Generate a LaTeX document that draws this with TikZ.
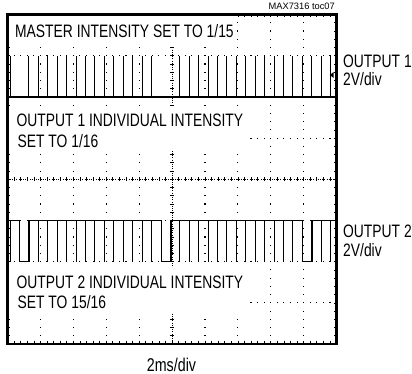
\documentclass[tikz,border=0pt]{standalone}
\usepackage{fontspec}
\setmainfont{Liberation Sans}[FakeStretch=0.77]
\newfontfamily\plainfont{Liberation Sans}
\begin{document}
\begin{tikzpicture}[x=1pt,y=-1pt,
  lbl/.style={font=\fontsize{18}{20}\selectfont, inner sep=0pt, anchor=base west},
  gdot/.style={fill=black},
  trace/.style={line width=1.5pt},
  pulse/.style={line width=0.9pt},
  frame/.style={line width=2.8pt},
  tick/.style={line width=0.6pt}]
\useasboundingbox (0,0) rectangle (412,374);
\fill[white] (0,0) rectangle (412,374);
\def\L{7.5}\def\R{336.5}\def\T{14.5}\def\B{344}
\pgfmathsetmacro\dx{(\R-\L)/10}
\pgfmathsetmacro\dy{(\B-\T)/8}
% dotted grid: vertical lines
\foreach \k in {1,2,3,4,6,7,8,9}{
  \foreach \j in {1,...,39}{
    \fill[gdot] ({\L+\k*\dx-0.5},{\T+\j*\dy/5-0.5}) rectangle ++(1.1,1.1);
  }
}
% dotted grid: horizontal lines
\foreach \k in {1,2,3,5,6,7}{
  \foreach \j in {1,...,49}{
    \fill[gdot] ({\L+\j*\dx/5-0.5},{\T+\k*\dy-0.5}) rectangle ++(1.1,1.1);
  }
}
% centre axes
\coordinate (cx) at ({\L+5*\dx},{\T+4*\dy});
\draw[line width=0.6pt,dash pattern=on 1pt off 1.2pt] (\L,{\T+4*\dy}) -- (\R,{\T+4*\dy});
\draw[line width=0.6pt,dash pattern=on 1pt off 1.2pt] ({\L+5*\dx},\T) -- ({\L+5*\dx},\B);
\foreach \j in {1,...,49}{
  \draw[tick] ({\L+\j*\dx/5},{\T+4*\dy-2.2}) -- ++(0,4.4);
}
\foreach \j in {1,...,39}{
  \draw[tick] ({\L+5*\dx-2.2},{\T+\j*\dy/5}) -- ++(4.4,0);
}
% frame ticks
\foreach \j in {1,...,49}{
  \draw[tick] ({\L+\j*\dx/5},\T) -- ++(0,2.6);
  \draw[tick] ({\L+\j*\dx/5},\B) -- ++(0,-2.6);
}
\foreach \j in {1,...,39}{
  \draw[tick] (\L,{\T+\j*\dy/5}) -- ++(2.6,0);
  \draw[tick] (\R,{\T+\j*\dy/5}) -- ++(-2.6,0);
}
% white text backgrounds
\fill[white] (9,16) rectangle (233,46);
\fill[white] (9,106) rectangle (245,151);
\fill[white] (9,268) rectangle (245,313);
% trace 1 (OUTPUT 1)
\pgfmathsetmacro\yl{\T+2*\dy}
\pgfmathsetmacro\yh{\T+1*\dy}
\draw[trace] (9,\yl) -- (335,\yl);
\foreach \n in {0,2,3,...,15,18,19,...,34}{
  \draw[pulse] ({10+9.43*\n},\yl) -- ({10+9.43*\n},\yh);
}
\fill (329.5,75) -- (333.5,72.2) -- (333.5,77.8) -- cycle;
% trace 2 (OUTPUT 2)
\pgfmathsetmacro\zh{\T+5*\dy}
\pgfmathsetmacro\zl{\T+6*\dy}
\draw[trace] (9,\zh) -- (19.4,\zh) -- (19.4,\zl) -- (28.9,\zl) -- (28.9,\zh)
  -- (161.6,\zh) -- (161.6,\zl) -- (171,\zl) -- (171,\zh)
  -- (302.3,\zh) -- (302.3,\zl) -- (311.8,\zl) -- (311.8,\zh) -- (335,\zh);
\foreach \n in {0,3,4,...,15,18,19,...,30,33,34}{
  \draw[pulse] ({10+9.43*\n},\zh) -- ({10+9.43*\n},\zl);
}
% frame
\draw[frame] (\L,\T) rectangle (\R,\B);
% texts
\node[lbl] (master) at (15,37.5) {MASTER INTENSITY SET TO 1/15};
\node[lbl] (o1a) at (16.5,126.5) {OUTPUT 1 INDIVIDUAL INTENSITY};
\node[lbl] (o1b) at (17.5,147.5) {SET TO 1/16};
\node[lbl] (o2a) at (16.5,288) {OUTPUT 2 INDIVIDUAL INTENSITY};
\node[lbl] (o2b) at (17.5,308.5) {SET TO 15/16};
\node[lbl] (r1a) at (343,67.5) {OUTPUT 1};
\node[lbl] (r1b) at (343,86) {2V/div};
\node[lbl] (r2a) at (343,237.5) {OUTPUT 2};
\node[lbl] (r2b) at (343,256.5) {2V/div};
\node[font=\plainfont\fontsize{9.3}{11}\selectfont, inner sep=0pt, anchor=base east] (toc) at (335,10) {MAX7316 toc07};
\node[font=\fontsize{18.5}{20}\selectfont, inner sep=0pt, anchor=base] (time) at (171.5,371.5) {2ms/div};
\end{tikzpicture}
\end{document}
